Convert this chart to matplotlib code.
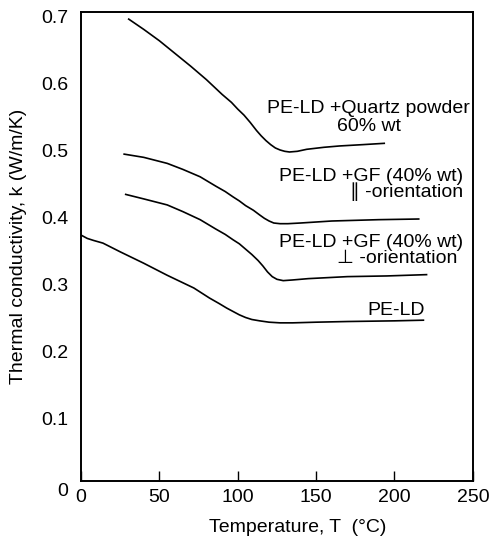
import matplotlib
matplotlib.use("Agg")
import matplotlib.pyplot as plt
from matplotlib.transforms import ScaledTranslation

plt.rcParams['font.family'] = ['Liberation Sans', 'DejaVu Sans']

# curves (T in degC, k in W/m/K)
quartz_T = [30, 40, 50, 60, 70, 80, 90, 96, 100, 104, 108, 112, 115, 118, 121, 124,
            127, 130, 133, 138, 144, 155, 165, 180, 194]
quartz_k = [0.690, 0.674, 0.657, 0.638, 0.619, 0.599, 0.577, 0.565, 0.555, 0.546,
            0.535, 0.523, 0.515, 0.508, 0.502, 0.497, 0.494, 0.492, 0.491, 0.492,
            0.495, 0.498, 0.500, 0.502, 0.504]

gf_par_T = [27, 40, 55, 65, 76, 86, 92, 97, 101, 105, 110, 114, 117, 120, 123, 127,
            132, 140, 160, 190, 216]
gf_par_k = [0.488, 0.483, 0.474, 0.465, 0.454, 0.440, 0.432, 0.424, 0.418, 0.411,
            0.404, 0.397, 0.392, 0.388, 0.385, 0.384, 0.384, 0.385, 0.388, 0.390, 0.391]

gf_perp_T = [28, 40, 55, 65, 76, 86, 92, 97, 101, 105, 109, 113, 116, 119, 122, 125,
             129, 135, 145, 170, 195, 221]
gf_perp_k = [0.428, 0.421, 0.412, 0.402, 0.390, 0.376, 0.368, 0.360, 0.354, 0.346,
             0.338, 0.329, 0.321, 0.312, 0.305, 0.301, 0.299, 0.300, 0.302, 0.305,
             0.306, 0.308]

pe_T = [0, 4, 8, 14, 25, 40, 55, 72, 82, 88, 93, 97, 101, 105, 109, 114, 120, 127,
        135, 150, 170, 200, 219]
pe_k = [0.367, 0.362, 0.359, 0.355, 0.342, 0.325, 0.307, 0.288, 0.273, 0.265,
        0.258, 0.253, 0.248, 0.244, 0.241, 0.239, 0.237, 0.236, 0.236, 0.237,
        0.238, 0.239, 0.240]

x_ticks = [0, 50, 100, 150, 200, 250]
y_ticks = [0, 0.1, 0.2, 0.3, 0.4, 0.5, 0.6, 0.7]
y_ticklabels = ['0', '0.1', '0.2', '0.3', '0.4', '0.5', '0.6', '0.7']

fig = plt.figure(figsize=(4.91, 5.43), dpi=100)
ax = fig.add_axes([0.165, 0.1142, 0.798, 0.8638])

for T, k in [(quartz_T, quartz_k), (gf_par_T, gf_par_k),
             (gf_perp_T, gf_perp_k), (pe_T, pe_k)]:
    ax.plot(T, k, color='black', lw=1.2, solid_capstyle='butt', solid_joinstyle='round')

ax.set_xlim(0, 250)
ax.set_ylim(0, 0.7)
ax.set_xticks(x_ticks)
ax.set_yticks(y_ticks)
ax.set_yticklabels(y_ticklabels)
ax.tick_params(axis='x', direction='in', length=7, width=1, pad=6, labelsize=14)
ax.tick_params(axis='y', length=0, pad=9, labelsize=14)
for s in ax.spines.values():
    s.set_linewidth(1.4)

# y tick labels sit a little low in the original, the zero even lower
for i, lab in enumerate(ax.get_yticklabels()):
    dy = -9 if i == 0 else -5
    lab.set_transform(lab.get_transform() + ScaledTranslation(0, dy / 100, fig.dpi_scale_trans))

ax.set_xlabel("Temperature, T  (°C)", fontsize=14)
ax.xaxis.set_label_coords(0.554, -0.082)
ax.set_ylabel("Thermal conductivity, k (W/m/K)", fontsize=14, labelpad=10)

fs = 14
ax.text(183.5, 0.542, "PE-LD +Quartz powder\n60% wt", ha='center', va='center',
        multialignment='center', linespacing=1.05, fontsize=fs)
ax.text(243.6, 0.442, "PE-LD +GF (40% wt)\n\u2225 -orientation", ha='right', va='center',
        multialignment='right', linespacing=0.8, fontsize=fs)
ax.text(243.6, 0.344, "PE-LD +GF (40% wt)\n\u22a5 -orientation ", ha='right', va='center',
        multialignment='right', linespacing=0.95, fontsize=fs)
ax.text(201.2, 0.255, "PE-LD", ha='center', va='center', fontsize=fs)

fig.savefig("out.png", dpi=100)
